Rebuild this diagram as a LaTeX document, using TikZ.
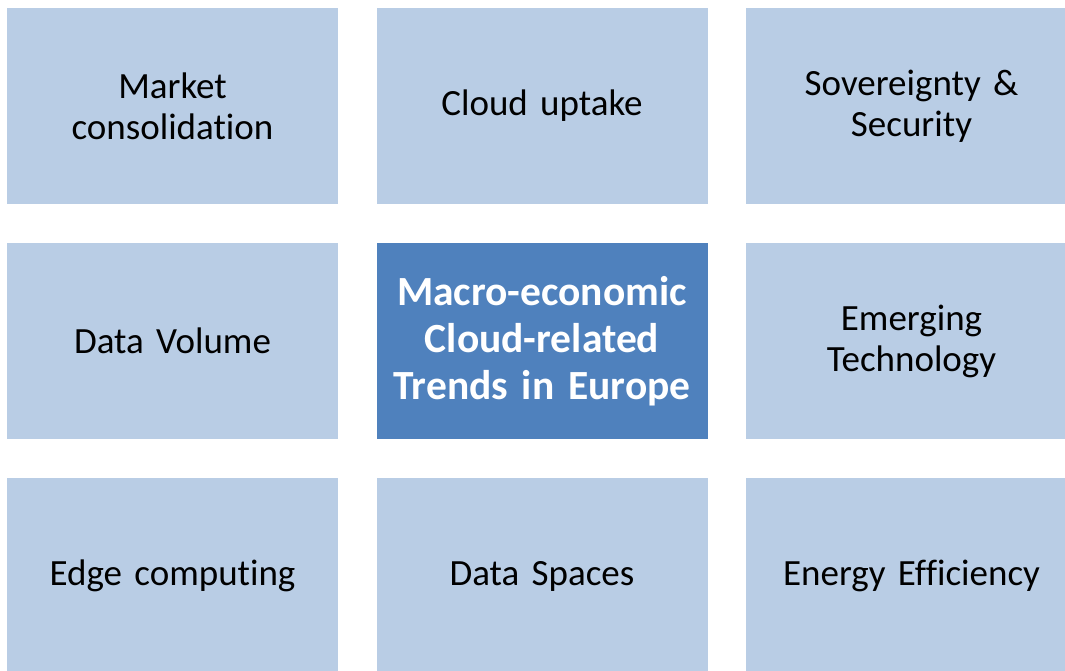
\documentclass[tikz,border=0pt]{standalone}
\usepackage{fontspec}
\setmainfont{Carlito}[Ligatures=NoCommon, WordSpace=0.85]
\definecolor{lightbox}{HTML}{B9CDE5}
\definecolor{darkbox}{HTML}{4F81BD}
\begin{document}
\begin{tikzpicture}[x=1pt,y=1pt,
  tile/.style={fill=lightbox, draw=none, minimum width=331pt, minimum height=196pt,
    inner sep=0pt, align=center, text width=325pt, font=\fontsize{37}{41}\selectfont},
  centertile/.style={tile, fill=darkbox, text=white, font=\fontsize{41.5}{47}\selectfont\bfseries}]
\useasboundingbox (0,0) rectangle (1065,671);
\clip (0,0) rectangle (1065,671);
\node[tile] (mc) at (172.5,565) {Market\\consolidation};
\node[tile] (cu) at (542,565) {Cloud uptake};
\node[tile] (ss) at (911.5,565) {Sovereignty \&\\Security};
\node[tile] (dv) at (172.5,330) {Data Volume};
\node[centertile] (ct) at (542,330) {Macro-economic\\Cloud-related\\Trends in Europe};
\node[tile] (et) at (911.5,330) {Emerging\\Technology};
\node[tile] (ec) at (172.5,95) {Edge computing};
\node[tile] (ds) at (542,95) {Data Spaces};
\node[tile] (ee) at (911.5,95) {Energy Efficiency};
\end{tikzpicture}
\end{document}
